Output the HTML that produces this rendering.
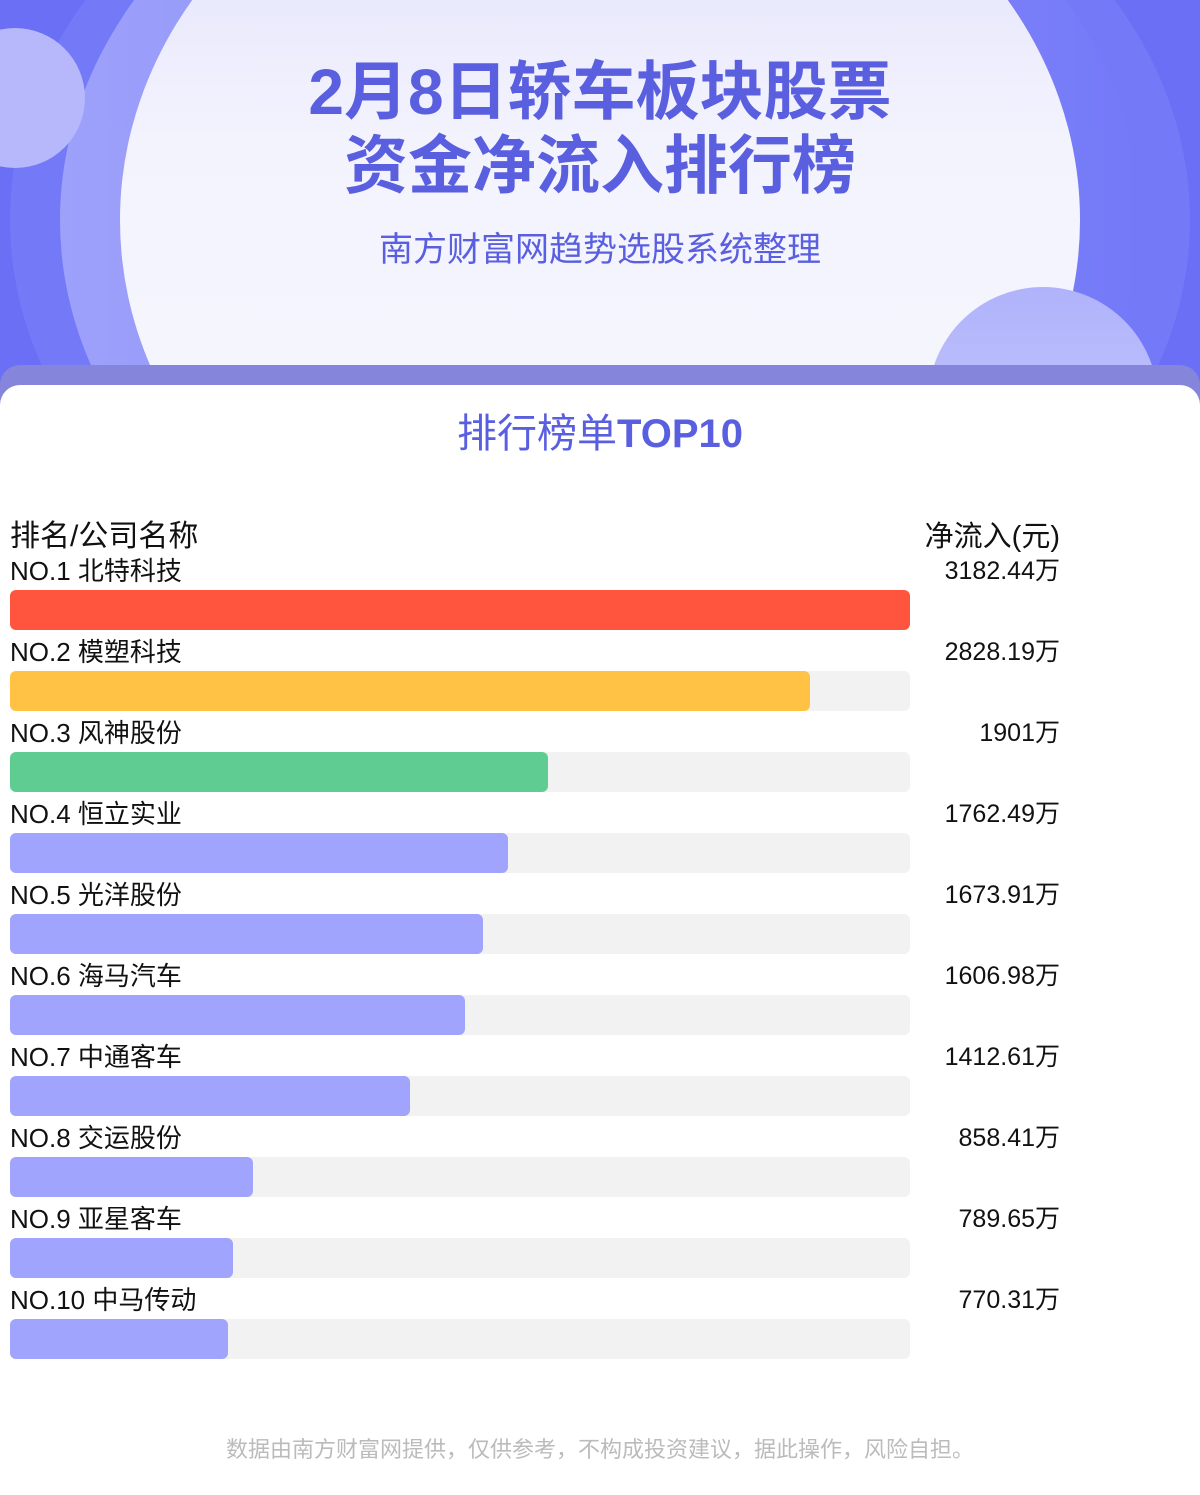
<!DOCTYPE html>
<html><head><meta charset="utf-8"><style>
*{margin:0;padding:0;box-sizing:border-box}
body{width:1200px;height:1495px;overflow:hidden;background:#fff;font-family:"Liberation Sans","Noto Sans CJK SC",sans-serif;position:relative}
.hdr{position:absolute;left:0;top:0;width:1200px;height:400px;background:#6a6ff6;overflow:hidden}
.ring{position:absolute;border-radius:50%}
.t{position:absolute;left:0;width:1200px;text-align:center;color:#5a5fe0}
.band{position:absolute;left:0;top:365px;width:1200px;height:60px;background:#8585dc;border-radius:20px 20px 0 0}
.card{position:absolute;left:0;top:385px;width:1200px;height:1110px;background:#fff;border-radius:20px 20px 0 0}
.lab{position:absolute;left:10px;font-size:26px;color:#111;line-height:30px}
.val{position:absolute;right:140px;font-size:25px;color:#111;line-height:30px;text-align:right}
.bg{position:absolute;left:10px;width:900px;height:40px;background:#f2f2f2;border-radius:6px}
.bar{position:absolute;left:10px;height:40px;border-radius:6px;background:#a0a4fc}
</style></head><body>
<div class="hdr">
 <div class="ring" style="left:10px;top:-230px;width:1180px;height:900px;background:#7479f8"></div>
 <div class="ring" style="left:60px;top:-215px;width:1080px;height:870px;background:linear-gradient(90deg,#9da1fa,#8a8ef8 50%,#7479f8)"></div>
 <div class="ring" style="left:120px;top:-197px;width:960px;height:834px;background:linear-gradient(180deg,#dcdcfb,#f3f3fe 40%,#f8f8ff)"></div>
 <div class="ring" style="left:-55px;top:28px;width:140px;height:140px;background:#b6b8fb"></div>
 <div class="ring" style="left:928px;top:287px;width:230px;height:230px;background:linear-gradient(180deg,#b0b3fb,#c8cafc)"></div>
</div>
<div class="t" style="top:55px;font-size:64px;font-weight:bold;line-height:74px">2月8日轿车板块股票<br>资金净流入排行榜</div>
<div class="t" style="top:230px;font-size:34px;line-height:40px">南方财富网趋势选股系统整理</div>
<div class="band"></div>
<div class="card"></div>
<div class="t" style="top:410px;font-size:40px;line-height:48px">排行榜单<b>TOP10</b></div>
<div class="lab" style="top:520px;font-size:30px;line-height:34px">排名/公司名称</div>
<div class="val" style="top:520px;font-size:29px;line-height:34px">净流入(元)</div>

<div class="lab" style="top:556px">NO.1 北特科技</div><div class="val" style="top:556px">3182.44万</div>
<div class="bg" style="top:590px"></div><div class="bar" style="top:590px;width:900px;background:#ff553e"></div>
<div class="lab" style="top:637px">NO.2 模塑科技</div><div class="val" style="top:637px">2828.19万</div>
<div class="bg" style="top:671px"></div><div class="bar" style="top:671px;width:800px;background:#ffc244"></div>
<div class="lab" style="top:718px">NO.3 风神股份</div><div class="val" style="top:718px">1901万</div>
<div class="bg" style="top:752px"></div><div class="bar" style="top:752px;width:538px;background:#5fcd91"></div>
<div class="lab" style="top:799px">NO.4 恒立实业</div><div class="val" style="top:799px">1762.49万</div>
<div class="bg" style="top:833px"></div><div class="bar" style="top:833px;width:498px"></div>
<div class="lab" style="top:880px">NO.5 光洋股份</div><div class="val" style="top:880px">1673.91万</div>
<div class="bg" style="top:914px"></div><div class="bar" style="top:914px;width:473px"></div>
<div class="lab" style="top:961px">NO.6 海马汽车</div><div class="val" style="top:961px">1606.98万</div>
<div class="bg" style="top:995px"></div><div class="bar" style="top:995px;width:455px"></div>
<div class="lab" style="top:1042px">NO.7 中通客车</div><div class="val" style="top:1042px">1412.61万</div>
<div class="bg" style="top:1076px"></div><div class="bar" style="top:1076px;width:400px"></div>
<div class="lab" style="top:1123px">NO.8 交运股份</div><div class="val" style="top:1123px">858.41万</div>
<div class="bg" style="top:1157px"></div><div class="bar" style="top:1157px;width:243px"></div>
<div class="lab" style="top:1204px">NO.9 亚星客车</div><div class="val" style="top:1204px">789.65万</div>
<div class="bg" style="top:1238px"></div><div class="bar" style="top:1238px;width:223px"></div>
<div class="lab" style="top:1285px">NO.10 中马传动</div><div class="val" style="top:1285px">770.31万</div>
<div class="bg" style="top:1319px"></div><div class="bar" style="top:1319px;width:218px"></div>

<div class="t" style="top:1436px;font-size:22px;line-height:28px;color:#bbb">数据由南方财富网提供，仅供参考，不构成投资建议，据此操作，风险自担。</div>
</body></html>
